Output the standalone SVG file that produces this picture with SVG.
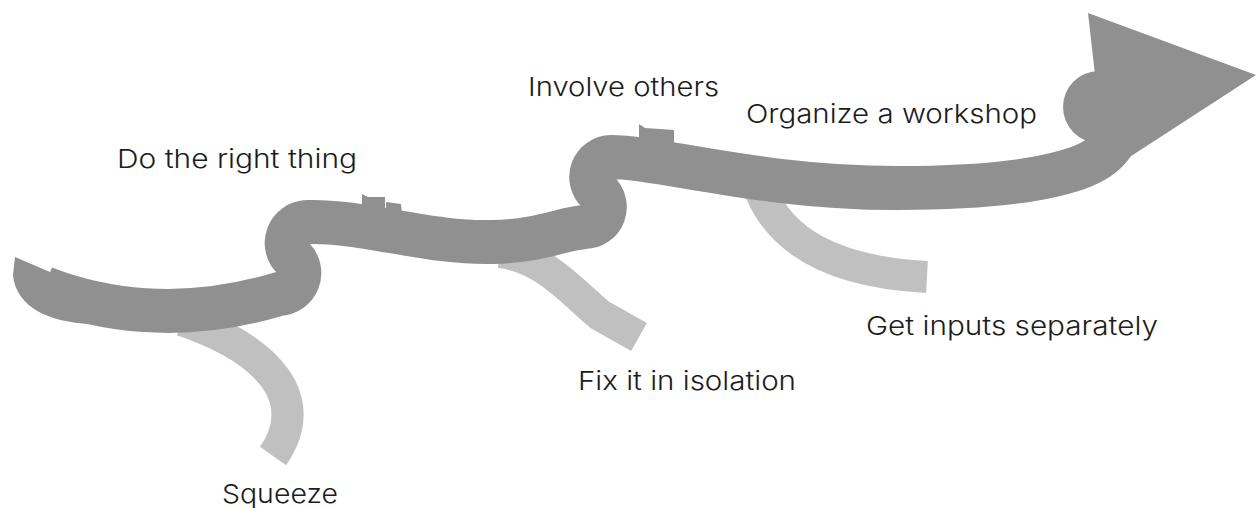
<svg xmlns="http://www.w3.org/2000/svg" width="1256" height="508" viewBox="0 0 1256 508">
  <style>
    .main { fill: none; stroke: #909090; stroke-width: 44; stroke-linecap: butt; stroke-linejoin: round; }
    .side { fill: none; stroke: #c0c0c0; stroke-width: 32; stroke-linecap: butt; }
    .solid { fill: #909090; }
    .label { font-family: Inter, Roboto, "Liberation Sans", sans-serif; font-size: 26px; font-weight: 300; fill: #1c1c1c; }
  </style>
  <rect width="1256" height="508" fill="#ffffff"/>

  <g id="connectors">
    <!-- side branches leaving the main path -->
    <path class="side" d="M 182 320 C 270 350 312 400 273 456"/>
    <path class="side" d="M 500 252 C 545 258 570 290 600 315 L 639 337"/>
    <path class="side" d="M 760 190 C 780 240 830 272 927 277"/>

    <!-- tail piece of the main path -->
    <path class="solid" d="M 15 257 L 57 275 L 90 324 C 50 322 16 308 13 275 Z"/>

    <!-- main winding path with two S-curls -->
    <path class="main" d="M 44 288 C 98 309 180 324 279 294
      A 21 21 0 0 0 293 258 A 21 21 0 0 1 307 222
      C 360 220 430 244 493 242 C 540 241 565 228 585 227
      A 20 20 0 0 0 598 192 A 20 20 0 0 1 611 157
      C 660 157 760 188 897 188 C 980 188 1030 182 1065 172
      C 1095 164 1115 150 1118 128"/>

    <!-- small tabs where the path pieces join -->
    <polygon class="solid" points="362,194 368,197 385,197 385,212 362,212"/>
    <polygon class="solid" points="386,202 401,204 402,214 386,214"/>
    <polygon class="solid" points="639,124 645,128 674,130 674,150 639,150"/>

    <!-- arrow head -->
    <circle class="solid" cx="1099" cy="107" r="36"/>
    <polygon class="solid" points="1088,13 1256,75 1125,160 1099,110"/>
  </g>

  <g id="node-do-the-right-thing"><text class="label" x="117" y="168" textLength="240" lengthAdjust="spacingAndGlyphs">Do the right thing</text></g>
  <g id="node-involve-others"><text class="label" x="528" y="96" textLength="191" lengthAdjust="spacingAndGlyphs">Involve others</text></g>
  <g id="node-organize-a-workshop"><text class="label" x="746" y="123" textLength="291" lengthAdjust="spacingAndGlyphs">Organize a workshop</text></g>
  <g id="node-squeeze"><text class="label" x="222" y="503" textLength="116" lengthAdjust="spacingAndGlyphs">Squeeze</text></g>
  <g id="node-fix-it-in-isolation"><text class="label" x="578" y="390" textLength="218" lengthAdjust="spacingAndGlyphs">Fix it in isolation</text></g>
  <g id="node-get-inputs-separately"><text class="label" x="866" y="335" textLength="292" lengthAdjust="spacingAndGlyphs">Get inputs separately</text></g>
</svg>
